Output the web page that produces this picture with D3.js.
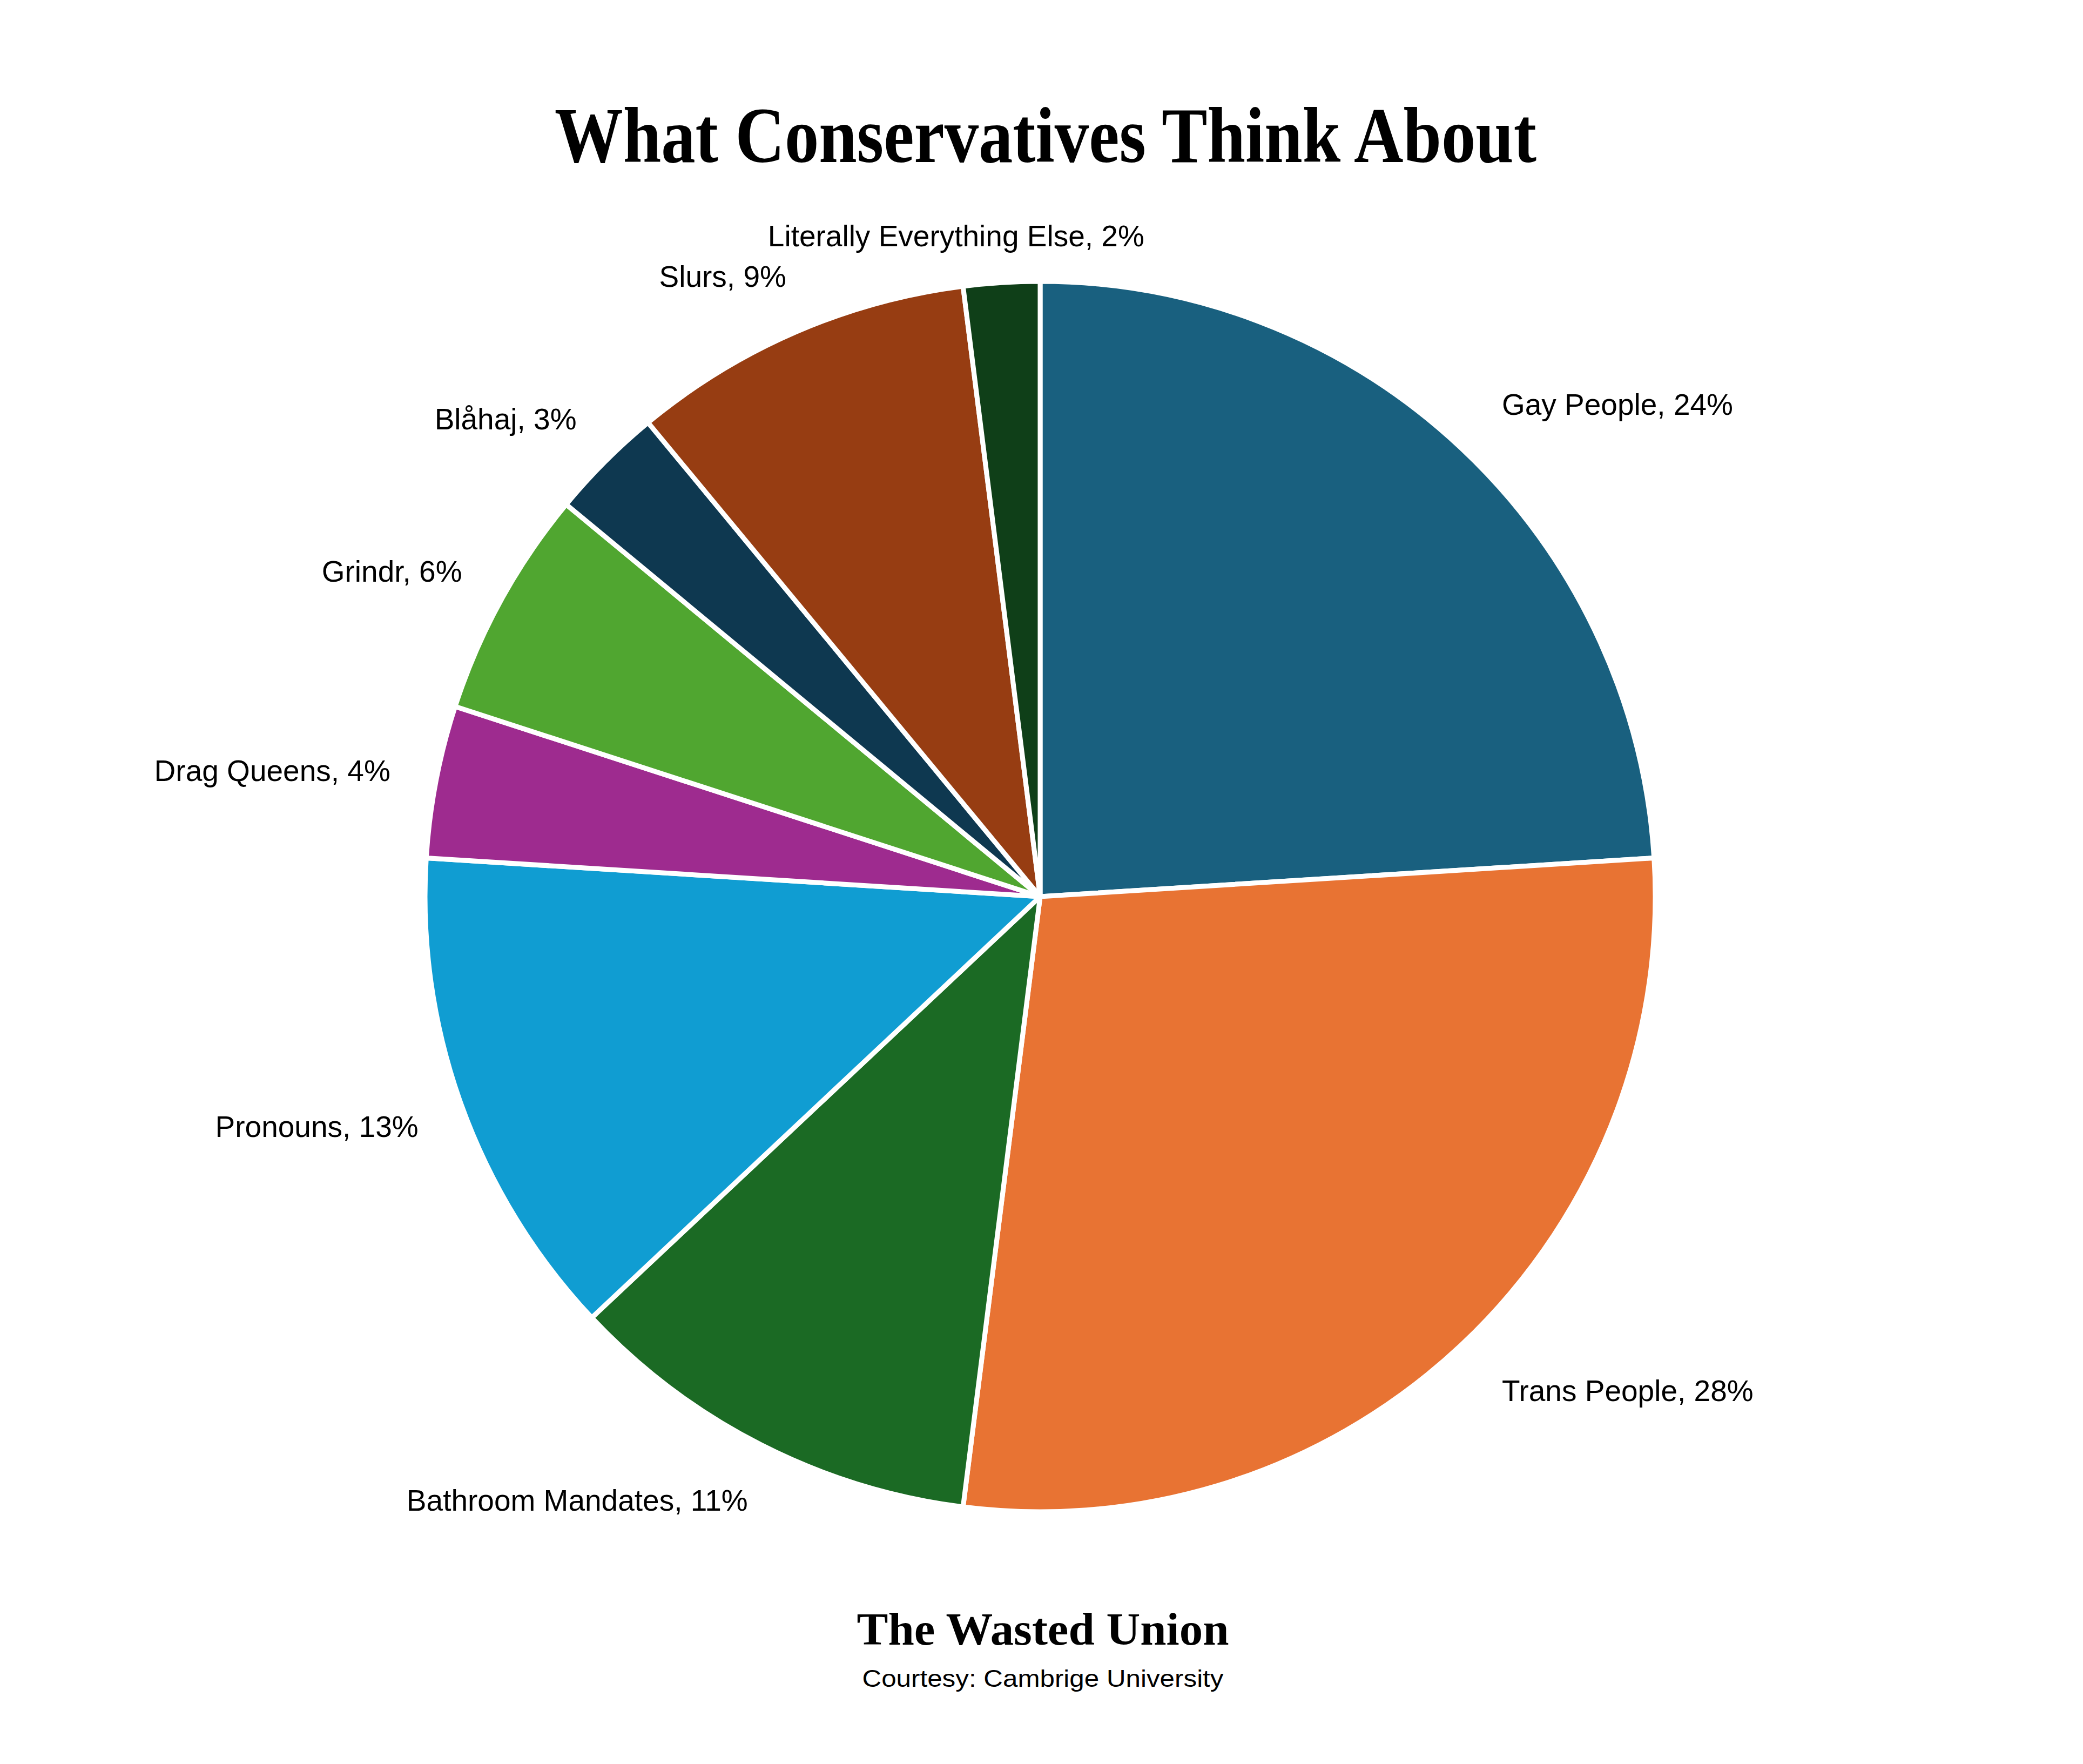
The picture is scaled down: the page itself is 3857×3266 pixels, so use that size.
<!DOCTYPE html>
<html>
<head>
<meta charset="utf-8">
<script src="https://cdn.jsdelivr.net/npm/d3@7"></script>
<style>
  html, body { margin: 0; padding: 0; background: #fff; }
</style>
</head>
<body>
<div id="app"></div>
<script>
(function (d3) {
  'use strict'

  // slices, clockwise from 12 o'clock
  const categories = ['Gay People', 'Trans People', 'Bathroom Mandates', 'Pronouns', 'Drag Queens',
    'Grindr', 'Blåhaj', 'Slurs', 'Literally Everything Else']
  const values = [24, 28, 11, 13, 4, 6, 3, 9, 2]
  const colors = ['#19607f', '#e87333', '#1b6a24', '#109dd2', '#9e2b8f',
    '#50a630', '#0e3850', '#973d12', '#0f3f18']

  const title = 'What Conservatives Think About'
  const brand = 'The Wasted Union'
  const credit = 'Courtesy: Cambrige University'

  const w = 3857
  const h = 3266
  const cx = 1926
  const cy = 1660
  const r = 1139

  const svg = d3.select('#app')
    .append('svg')
    .attr('width', w)
    .attr('height', h)

  svg.append('rect').attr('width', w).attr('height', h).attr('fill', '#fff')

  const data = categories.map((c, i) => ({ name: c, value: values[i], color: colors[i] }))

  const pie = d3.pie().sort(null).value(d => d.value)
  const arc = d3.arc().innerRadius(0).outerRadius(r)
  const arcs = pie(data)

  const g = svg.append('g').attr('transform', `translate(${cx},${cy})`)

  g.selectAll('path')
    .data(arcs)
    .enter().append('path')
    .attr('d', arc)
    .attr('fill', d => d.data.color)
    .attr('stroke', '#fff')
    .attr('stroke-width', 9)
    .attr('stroke-linejoin', 'round')

  // labels sit at 1.1 r on the mid angle
  const labelR = r * 1.1
  const mid = d => (d.startAngle + d.endAngle) / 2
  const side = d => {
    const s = Math.sin(mid(d))
    if (Math.abs(s) < 0.1) return 'middle'
    return s > 0 ? 'start' : 'end'
  }

  g.selectAll('text.lbl')
    .data(arcs)
    .enter().append('text')
    .attr('class', 'lbl')
    .attr('x', d => labelR * Math.sin(mid(d)))
    .attr('y', d => -labelR * Math.cos(mid(d)))
    .attr('dx', d => side(d) === 'end' ? '0.5em' : side(d) === 'middle' ? '-1.4em' : '-0.05em')
    .attr('dy', d => side(d) === 'middle' ? '0.85em' : '0.38em')
    .attr('text-anchor', side)
    .style('font-family', '"Liberation Sans", Arial, sans-serif')
    .style('font-size', '55px')
    .attr('fill', '#000')
    .text(d => d.data.name + ', ' + d.data.value + '%')

  svg.append('text')
    .attr('x', 1936)
    .attr('y', 300)
    .attr('text-anchor', 'middle')
    .attr('textLength', 1818)
    .attr('lengthAdjust', 'spacingAndGlyphs')
    .style('font-family', '"Liberation Serif", "DejaVu Serif", serif')
    .style('font-weight', 'bold')
    .style('font-size', '146px')
    .attr('fill', '#000')
    .text(title)

  svg.append('text')
    .attr('x', 1931)
    .attr('y', 3045)
    .attr('text-anchor', 'middle')
    .attr('textLength', 689)
    .attr('lengthAdjust', 'spacingAndGlyphs')
    .style('font-family', '"Liberation Serif", "DejaVu Serif", serif')
    .style('font-weight', 'bold')
    .style('font-size', '84px')
    .attr('fill', '#000')
    .text(brand)

  svg.append('text')
    .attr('x', 1931)
    .attr('y', 3123)
    .attr('text-anchor', 'middle')
    .attr('textLength', 669)
    .attr('lengthAdjust', 'spacingAndGlyphs')
    .style('font-family', '"Liberation Sans Narrow", "Liberation Sans", Arial, sans-serif')
    .style('font-size', '44px')
    .attr('fill', '#000')
    .text(credit)

}(d3))
</script>
</body>
</html>
